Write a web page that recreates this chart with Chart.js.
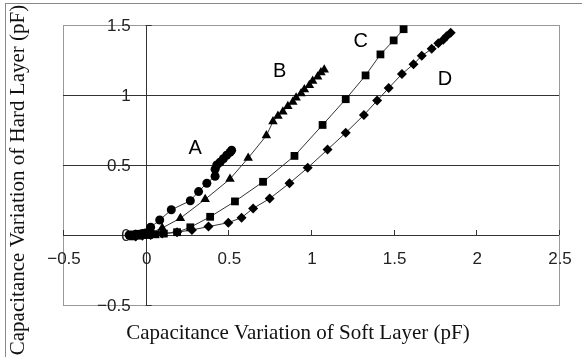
<!DOCTYPE html>
<html>
<head>
<meta charset="utf-8">
<script src="https://cdn.jsdelivr.net/npm/chart.js@4"></script>
<style>
  html, body { margin: 0; padding: 0; background: #fff; }
  #wrap { width: 582px; height: 357px; }
</style>
</head>
<body>
<div id="wrap"><canvas id="myChart" width="582" height="357"></canvas></div>
<script>
// series (pF)
const aX = [-0.10, -0.08, -0.06, -0.04, -0.02, 0.00, 0.03, 0.085, 0.155, 0.27, 0.32, 0.37, 0.42, 0.42, 0.43, 0.45, 0.47, 0.49, 0.51, 0.52];
const aY = [0.00, 0.00, 0.005, 0.005, 0.01, 0.015, 0.055, 0.107, 0.18, 0.245, 0.31, 0.37, 0.42, 0.47, 0.50, 0.52, 0.545, 0.57, 0.59, 0.605];

const bX = [-0.09, -0.06, -0.03, 0.00, 0.04, 0.10, 0.21, 0.36, 0.51, 0.62, 0.73, 0.77, 0.80, 0.83, 0.86, 0.89, 0.91, 0.94, 0.96, 0.99, 1.01, 1.04, 1.06, 1.08];
const bY = [-0.005, 0.00, 0.00, 0.005, 0.02, 0.05, 0.12, 0.255, 0.40, 0.55, 0.71, 0.81, 0.85, 0.88, 0.92, 0.95, 0.98, 1.01, 1.04, 1.07, 1.10, 1.13, 1.16, 1.18];

const cX = [-0.08, -0.05, -0.02, 0.02, 0.06, 0.11, 0.19, 0.27, 0.39, 0.54, 0.71, 0.90, 1.07, 1.21, 1.33, 1.42, 1.50, 1.56];
const cY = [-0.01, -0.005, 0.00, 0.00, 0.005, 0.01, 0.02, 0.055, 0.13, 0.24, 0.38, 0.565, 0.786, 0.97, 1.14, 1.29, 1.39, 1.47];

const dX = [-0.06, -0.02, 0.03, 0.10, 0.19, 0.28, 0.38, 0.50, 0.58, 0.65, 0.75, 0.87, 0.98, 1.10, 1.21, 1.32, 1.40, 1.47, 1.55, 1.62, 1.67, 1.73, 1.77, 1.80, 1.82, 1.845];
const dY = [-0.01, -0.005, 0.00, 0.01, 0.02, 0.036, 0.06, 0.088, 0.124, 0.19, 0.26, 0.37, 0.48, 0.61, 0.73, 0.857, 0.96, 1.05, 1.15, 1.22, 1.28, 1.33, 1.37, 1.395, 1.42, 1.445];

const xTicks = [-0.5, 0, 0.5, 1, 1.5, 2, 2.5];
const yTicks = [-0.5, 0, 0.5, 1, 1.5];
const curveNames = ['A', 'B', 'C', 'D'];
const namePos = [[0.30, 0.62], [0.81, 1.17], [1.30, 1.38], [1.81, 1.11]];

function pts(xs, ys) {
  return xs.map((x, i) => ({ x: x, y: ys[i] }));
}

function series(data, style, r) {
  return {
    data: data,
    showLine: true,
    borderColor: '#333',
    borderWidth: 1,
    pointStyle: style,
    pointRadius: r,
    pointBackgroundColor: '#000',
    pointBorderColor: '#000',
    pointBorderWidth: 0,
    clip: false
  };
}

const axesPlugin = {
  id: 'excelAxes',
  beforeDatasetsDraw(chart) {
    const ctx = chart.ctx;
    const xs = chart.scales.x, ys = chart.scales.y;
    const a = chart.chartArea;
    const x0 = xs.getPixelForValue(0), y0 = ys.getPixelForValue(0);
    ctx.save();
    // outer frame
    ctx.strokeStyle = '#888';
    ctx.lineWidth = 1;
    ctx.strokeRect(5.5, 3.5, 600, 400);
    // plot box
    ctx.strokeStyle = '#999';
    ctx.strokeRect(a.left + 0.5, a.top + 0.5, a.right - a.left, a.bottom - a.top);
    // horizontal grid lines
    ctx.strokeStyle = '#333';
    yTicks.forEach(v => {
      if (v === 1.5 || v === -0.5) return;
      const y = Math.round(ys.getPixelForValue(v)) + 0.5;
      ctx.beginPath(); ctx.moveTo(a.left, y); ctx.lineTo(a.right, y); ctx.stroke();
    });
    // y axis at x = 0
    ctx.beginPath();
    ctx.moveTo(Math.round(x0) + 0.5, a.top); ctx.lineTo(Math.round(x0) + 0.5, a.bottom); ctx.stroke();
    // tick marks
    xTicks.forEach(v => {
      const x = Math.round(xs.getPixelForValue(v)) + 0.5;
      ctx.beginPath(); ctx.moveTo(x, y0 - 5); ctx.lineTo(x, y0); ctx.stroke();
    });
    yTicks.forEach(v => {
      const y = Math.round(ys.getPixelForValue(v)) + 0.5;
      ctx.beginPath(); ctx.moveTo(x0, y); ctx.lineTo(x0 + 6, y); ctx.stroke();
    });
    // tick labels
    ctx.fillStyle = '#222';
    ctx.font = '17px "Liberation Sans", Arial, sans-serif';
    ctx.textAlign = 'right';
    ctx.textBaseline = 'middle';
    yTicks.forEach(v => {
      ctx.fillText(String(v).replace('-', '\u2212'), x0 - 15, ys.getPixelForValue(v) + 1);
    });
    ctx.textAlign = 'center';
    xTicks.forEach(v => {
      ctx.fillText(String(v).replace('-', '\u2212'), xs.getPixelForValue(v) + 1, y0 + 24);
    });
    // axis titles
    ctx.fillStyle = '#111';
    ctx.font = '21px "Liberation Serif", "Times New Roman", serif';
    ctx.fillText('Capacitance Variation of Soft Layer (pF)', 298, 333);
    ctx.save();
    ctx.translate(18, 180);
    ctx.rotate(-Math.PI / 2);
    ctx.fillText('Capacitance Variation of Hard Layer (pF)', 0, 0);
    ctx.restore();
    ctx.restore();
  },
  afterDatasetsDraw(chart) {
    const ctx = chart.ctx;
    const xs = chart.scales.x, ys = chart.scales.y;
    ctx.save();
    ctx.fillStyle = '#000';
    ctx.font = '20px "Liberation Sans", Arial, sans-serif';
    ctx.textAlign = 'center';
    ctx.textBaseline = 'middle';
    curveNames.forEach((n, i) => {
      ctx.fillText(n, xs.getPixelForValue(namePos[i][0]), ys.getPixelForValue(namePos[i][1]));
    });
    ctx.restore();
  }
};

new Chart(document.getElementById('myChart').getContext('2d'), {
  type: 'scatter',
  data: {
    datasets: [
      series(pts(aX, aY), 'circle', 4.5),
      series(pts(bX, bY), 'triangle', 5.5),
      series(pts(cX, cY), 'rect', 5.5),
      series(pts(dX, dY), 'rectRot', 5)
    ]
  },
  options: {
    responsive: false,
    animation: false,
    layout: { padding: { left: 63, right: 23, top: 25, bottom: 52 } },
    plugins: { legend: { display: false }, tooltip: { enabled: false } },
    scales: {
      x: { type: 'linear', min: -0.5, max: 2.5, display: false },
      y: { type: 'linear', min: -0.5, max: 1.5, display: false }
    }
  },
  plugins: [axesPlugin]
});
</script>
</body>
</html>
